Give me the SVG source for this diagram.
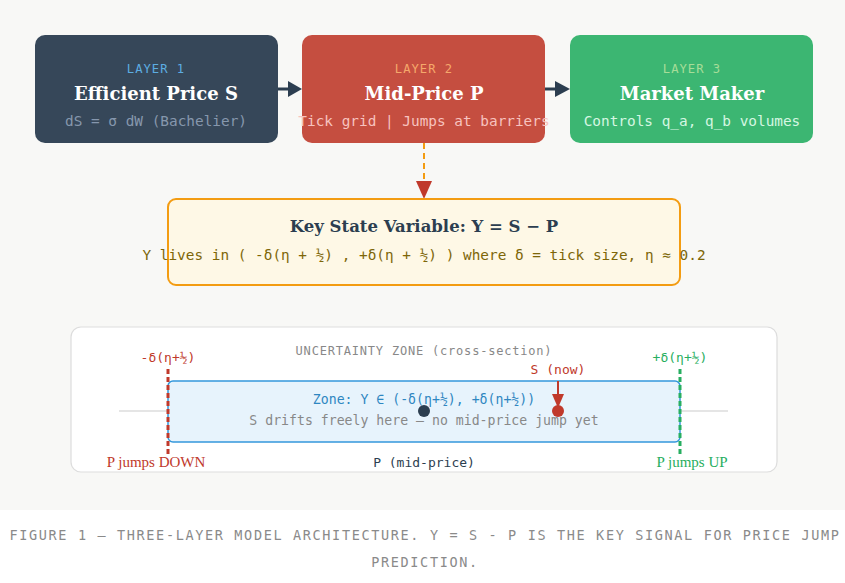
<svg xmlns="http://www.w3.org/2000/svg" width="845" height="583" viewBox="0 0 845 583">
<defs>
<style>
.mono{font-family:"DejaVu Sans Mono","Liberation Mono",monospace}
.serif{font-family:"Liberation Serif","DejaVu Serif",serif}
.bserif{font-family:"DejaVu Serif","Liberation Serif",serif;font-weight:bold}
.lay{font-size:12.2px;letter-spacing:1px;text-anchor:middle}
.ttl{font-size:18px;fill:#ffffff;text-anchor:middle}
.sub{font-size:14.4px;text-anchor:middle}
.small{font-size:13px;text-anchor:middle}
</style>
</defs>
<rect x="0" y="0" width="845" height="510" fill="#f8f8f6"/>
<rect x="0" y="510" width="845" height="73" fill="#ffffff"/>

<g id="connectors">
<line x1="278" y1="89" x2="290" y2="89" stroke="#2c3e50" stroke-width="3"/>
<path d="M288,81 L302,89 L288,97 z" fill="#2c3e50"/>
<line x1="545" y1="89" x2="557" y2="89" stroke="#2c3e50" stroke-width="3"/>
<path d="M555,81 L570,89 L555,97 z" fill="#2c3e50"/>
<line x1="424" y1="143" x2="424" y2="182" stroke="#f39c12" stroke-width="2" stroke-dasharray="6,4"/>
<path d="M416,181 L432,181 L424,199 z" fill="#c0392b"/>
</g>

<g id="layer1">
<rect x="35" y="35" width="243" height="108" rx="10" fill="#364759"/>
<text class="mono lay" x="156" y="73" fill="#5dade2">LAYER 1</text>
<text class="bserif ttl" x="156" y="100">Efficient Price S</text>
<text class="mono sub" x="156" y="126" fill="#8697ad">dS = σ dW (Bachelier)</text>
</g>

<g id="layer2">
<rect x="302" y="35" width="243" height="108" rx="10" fill="#c54e40"/>
<text class="mono lay" x="424" y="73" fill="#f5a86b">LAYER 2</text>
<text class="bserif ttl" x="424" y="100">Mid-Price P</text>
<text class="mono sub" x="424" y="126" fill="#f7c3bf">Tick grid | Jumps at barriers</text>
</g>

<g id="layer3">
<rect x="570" y="35" width="243" height="108" rx="10" fill="#3cb672"/>
<text class="mono lay" x="692" y="73" fill="#a6dd98">LAYER 3</text>
<text class="bserif ttl" x="692" y="100">Market Maker</text>
<text class="mono sub" x="692" y="126" fill="#d6f6e2">Controls q_a, q_b volumes</text>
</g>

<g id="keystate">
<rect x="168" y="199" width="512" height="86" rx="8" fill="#fef8e6" stroke="#f39c12" stroke-width="2"/>
<text class="bserif" x="424" y="232" font-size="16.5" fill="#2c3e50" text-anchor="middle">Key State Variable: Y = S − P</text>
<text class="mono sub" x="424" y="260" fill="#7d6608">Y lives in ( -δ(η + ½) , +δ(η + ½) ) where δ = tick size, η ≈ 0.2</text>
</g>

<g id="zone-panel">
<rect x="71" y="327" width="706" height="145" rx="10" fill="#ffffff" stroke="#dddddd" stroke-width="1.2"/>
<text class="mono" x="424" y="355" font-size="12" letter-spacing="0.8" fill="#888888" text-anchor="middle">UNCERTAINTY ZONE (cross-section)</text>
<line x1="119" y1="411" x2="728" y2="411" stroke="#dddddd" stroke-width="1.5"/>
<rect x="168" y="381" width="512" height="61" rx="5" fill="#e7f3fc" stroke="#3498db" stroke-width="1.5"/>
<text class="mono" x="424" y="404" font-size="13.2" fill="#2e86c1" text-anchor="middle">Zone: Y ∈ (-δ(η+½), +δ(η+½))</text>
<text class="mono" x="424" y="425" font-size="13.2" fill="#888888" text-anchor="middle">S drifts freely here — no mid-price jump yet</text>
<line x1="168" y1="369" x2="168" y2="454" stroke="#c0392b" stroke-width="3" stroke-dasharray="5,3"/>
<line x1="680" y1="369" x2="680" y2="454" stroke="#27ae60" stroke-width="3" stroke-dasharray="5,3"/>
<text class="mono small" x="168" y="362" fill="#c0392b">-δ(η+½)</text>
<text class="mono small" x="680" y="362" fill="#27ae60">+δ(η+½)</text>
<circle cx="424" cy="411" r="6" fill="#2c3e50"/>
<text class="mono small" x="558" y="374" fill="#c0392b">S (now)</text>
<line x1="558" y1="381" x2="558" y2="396" stroke="#c0392b" stroke-width="2"/>
<path d="M552,394 L564,394 L558,408 z" fill="#c0392b"/>
<circle cx="558" cy="411" r="6" fill="#c0392b"/>
<text class="serif" x="156" y="467" font-size="15" fill="#c0392b" text-anchor="middle">P jumps DOWN</text>
<text class="mono small" x="424" y="467" fill="#2c3e50">P (mid-price)</text>
<text class="serif" x="692" y="467" font-size="15" fill="#27ae60" text-anchor="middle">P jumps UP</text>
</g>

<g id="caption">
<text class="mono" x="425" y="540" font-size="13.5" letter-spacing="1.65" fill="#8a8a8a" text-anchor="middle">FIGURE 1 — THREE-LAYER MODEL ARCHITECTURE. Y = S - P IS THE KEY SIGNAL FOR PRICE JUMP</text>
<text class="mono" x="425" y="567" font-size="13.5" letter-spacing="1.65" fill="#8a8a8a" text-anchor="middle">PREDICTION.</text>
</g>
</svg>
